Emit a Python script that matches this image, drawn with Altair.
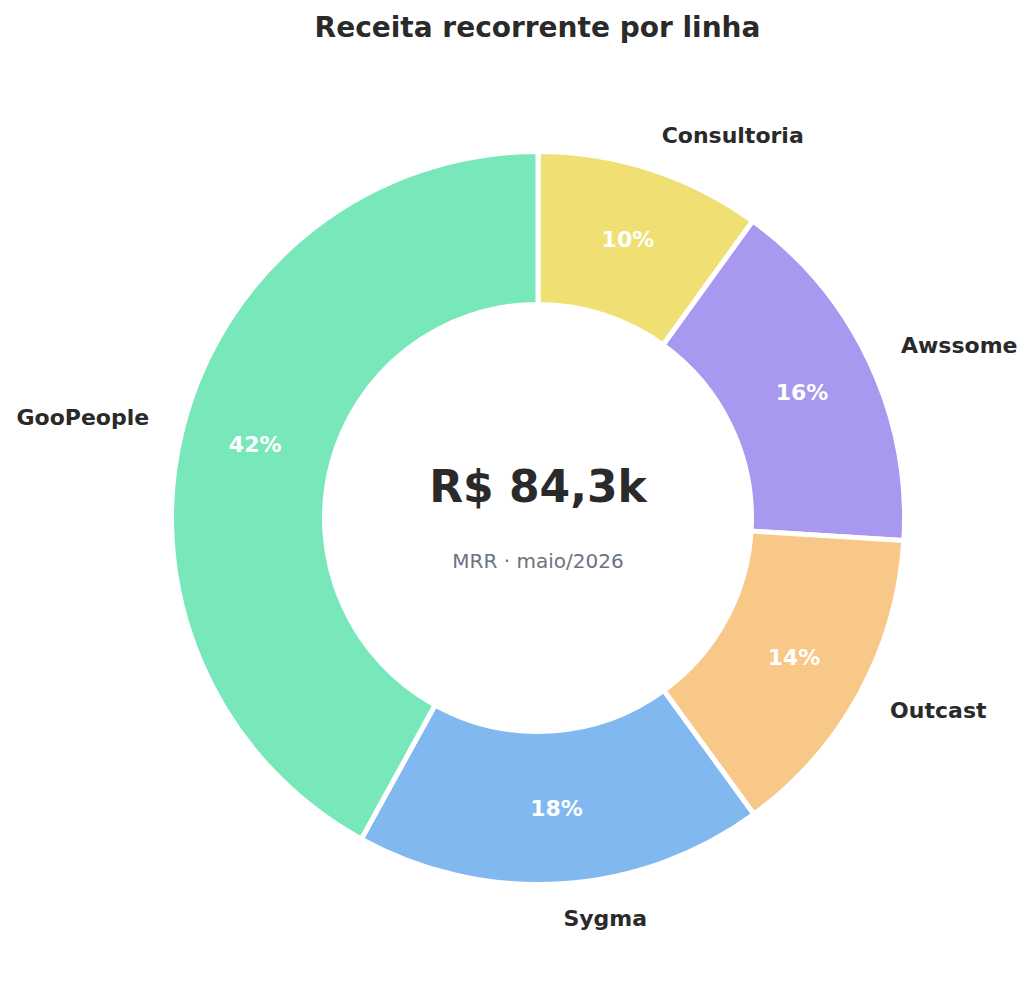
import altair as alt
import pandas as pd

categories = ["Consultoria", "Awssome", "Outcast", "Sygma", "GooPeople"]
values = [8.4, 13.5, 11.8, 15.2, 35.4]  # R$ mil
colors = ["#F0DF72", "#A898EF", "#F7C887", "#80B8EF", "#78E8BB"]

title_text = "Receita recorrente por linha"
center_value = "R$ 84,3k"
center_caption = "MRR · maio/2026"

df = pd.DataFrame({
    "linha": categories,
    "valor": values,
    "ordem": list(range(len(categories))),
})

CX, CY = 530, 450
R_OUT, R_IN = 366.5, 213.5
R_BASE = 365
FONT = "DejaVu Sans"

base = alt.Chart(df)

arcs = base.mark_arc(
    radius=R_OUT, radius2=R_IN, stroke="white", strokeWidth=5
).encode(
    theta=alt.Theta("valor:Q", stack=True),
    order=alt.Order("ordem:Q"),
    color=alt.Color("linha:N", scale=alt.Scale(domain=categories, range=colors), legend=None),
    x=alt.value(CX), y=alt.value(CY),
)

def with_angles(ch):
    return ch.transform_joinaggregate(
        total="sum(valor)"
    ).transform_window(
        cum="sum(valor)", sort=[alt.SortField("ordem")], frame=[None, 0]
    ).transform_calculate(
        mid="(datum.cum - datum.valor / 2) / datum.total * 2 * PI",
        pct="format(datum.valor / datum.total, '.0%')",
    )

pct_labels = with_angles(base).mark_text(
    radius=R_BASE * 0.8, font=FONT, fontSize=22, fontWeight="bold", color="white",
    align="center", baseline="middle",
).encode(
    theta=alt.Theta("mid:Q", scale=None, stack=None),
    text="pct:N",
    x=alt.value(CX), y=alt.value(CY),
)

def outer(side_filter, align):
    return with_angles(base).transform_filter(side_filter).mark_text(
        radius=R_BASE * 1.1, font=FONT, fontSize=22, fontWeight="bold", color="#2a2a2a",
        align=align, baseline="middle",
    ).encode(
        theta=alt.Theta("mid:Q", scale=None, stack=None),
        text="linha:N",
        x=alt.value(CX), y=alt.value(CY),
    )

right_labels = outer("datum.mid < PI", "left")
left_labels = outer("datum.mid >= PI", "right")

center_big = alt.Chart(pd.DataFrame({"t": [center_value]})).mark_text(
    font=FONT, fontSize=44, fontWeight="bold", color="#2a2a2a",
    align="center", baseline="alphabetic",
).encode(text="t:N", x=alt.value(CX), y=alt.value(CY - 16))

center_small = alt.Chart(pd.DataFrame({"t": [center_caption]})).mark_text(
    font=FONT, fontSize=20, color="#6b7280",
    align="center", baseline="alphabetic",
).encode(text="t:N", x=alt.value(CX), y=alt.value(CY + 50))

chart = alt.layer(
    arcs, pct_labels, right_labels, left_labels, center_big, center_small
).resolve_scale(theta="independent").properties(
    width=1017, height=910,
    title=alt.TitleParams(title_text, font=FONT, fontSize=28, fontWeight="bold",
                          color="#2a2a2a", anchor="middle", dx=21, offset=25),
    padding={"left": 0, "top": 60, "right": 0, "bottom": 0},
    autosize=alt.AutoSizeParams(type="none"),
).configure_view(stroke=None)

chart.save("out.html", embed_options={"renderer": "svg", "actions": False})
